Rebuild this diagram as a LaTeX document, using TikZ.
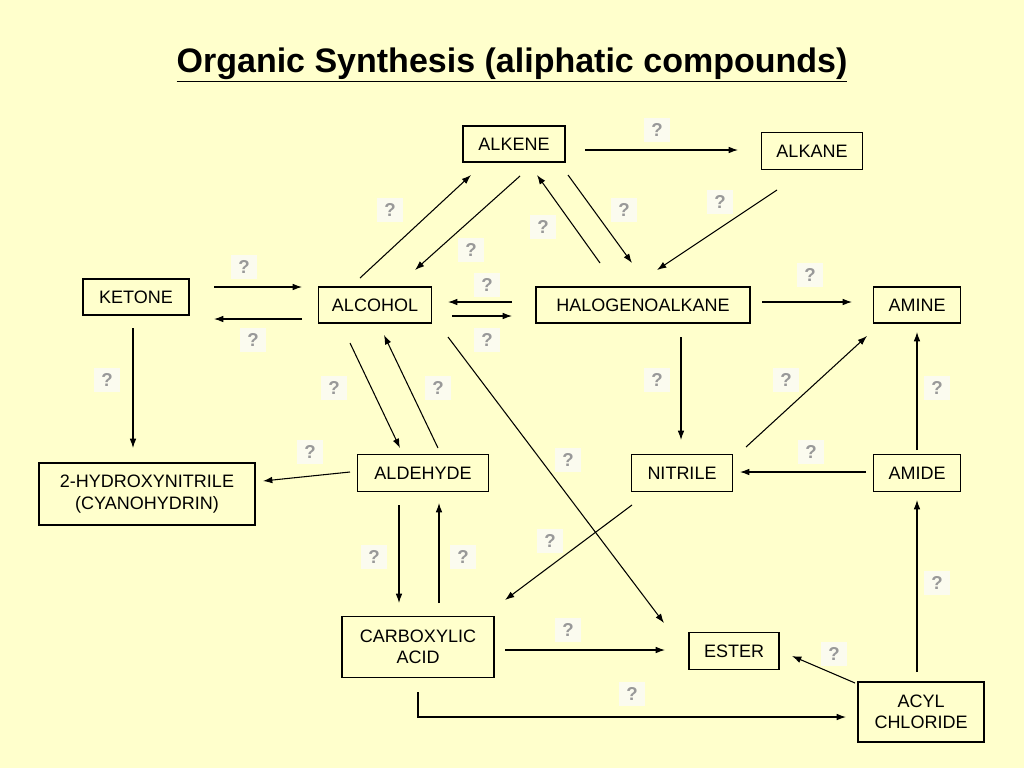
\documentclass[tikz,border=0pt]{standalone}
\usepackage{fontspec}
\setmainfont{Liberation Sans}
\usetikzlibrary{arrows.meta}
\definecolor{bg}{HTML}{FFFFCC}
\definecolor{qbg}{HTML}{FBFBEF}
\definecolor{qfg}{HTML}{999999}
\begin{document}
\begin{tikzpicture}[x=0.75pt,y=-0.75pt,
  box/.style={draw,line width=1.4pt,font=\fontsize{13.5}{16}\selectfont,align=center,inner sep=0pt},
  q/.style={fill=qbg,text=qfg,font=\fontsize{14}{16}\selectfont\bfseries,minimum width=20pt,minimum height=18pt,inner sep=0pt},
  ar/.style={-{Latex[length=7pt,width=5pt]},line width=0.8pt}]
\fill[bg] (0,0) rectangle (1024,768);
\useasboundingbox (0,0) rectangle (1024,768);
\node[font=\fontsize{25.5}{28}\selectfont\bfseries] (title) at (512,65) {\underline{Organic Synthesis (aliphatic compounds)}};
\node[box,minimum width=76.5pt,minimum height=27pt] (alkene) at (514,144) {ALKENE};
\node[box,minimum width=75.75pt,minimum height=27.75pt] (alkane) at (812,151) {ALKANE};
\node[box,minimum width=79.5pt,minimum height=27pt] (ketone) at (136,297) {KETONE};
\node[box,minimum width=84.75pt,minimum height=27pt] (alcohol) at (375,305) {ALCOHOL};
\node[box,minimum width=160.5pt,minimum height=27pt] (halo) at (643,305) {HALOGENOALKANE};
\node[box,minimum width=65.25pt,minimum height=27pt] (amine) at (917,305) {AMINE};
\node[box,minimum width=162pt,minimum height=46.5pt] (hydroxy) at (147,494) {2-HYDROXYNITRILE\\(CYANOHYDRIN)};
\node[box,minimum width=98.25pt,minimum height=27.75pt] (aldehyde) at (423,473) {ALDEHYDE};
\node[box,minimum width=75.75pt,minimum height=27.75pt] (nitrile) at (682,473) {NITRILE};
\node[box,minimum width=65.25pt,minimum height=27.75pt] (amide) at (917,473) {AMIDE};
\node[box,minimum width=114pt,minimum height=45.75pt] (acid) at (418,647) {CARBOXYLIC\\ACID};
\node[box,minimum width=67.5pt,minimum height=27.75pt] (ester) at (734,651) {ESTER};
\node[box,minimum width=94.5pt,minimum height=45pt] (acyl) at (921,712) {ACYL\\CHLORIDE};
\draw[ar] (585,150) -- (738,150);
\draw[ar] (360,278) -- (471,175);
\draw[ar] (520,176) -- (415,270);
\draw[ar] (600,263) -- (537,175);
\draw[ar] (568,175) -- (632,263);
\draw[ar] (777,190) -- (657,270);
\draw[ar] (214,287) -- (302,287);
\draw[ar] (302,319) -- (214,319);
\draw[ar] (512,302) -- (448,302);
\draw[ar] (452,316) -- (512,316);
\draw[ar] (762,302) -- (852,302);
\draw[ar] (133,328) -- (133,448);
\draw[ar] (350,343) -- (400,448);
\draw[ar] (438,448) -- (384,335);
\draw[ar] (448,337) -- (664,623);
\draw[ar] (681,337) -- (681,440);
\draw[ar] (746,447) -- (867,336);
\draw[ar] (917,450) -- (917,332);
\draw[ar] (866,472) -- (740,472);
\draw[ar] (350,472) -- (263,481);
\draw[ar] (399,505) -- (399,603);
\draw[ar] (439,603) -- (439,503);
\draw[ar] (632,505) -- (505,600);
\draw[ar] (505,650) -- (665,650);
\draw[ar] (855,683) -- (792,656);
\draw[ar] (917,672) -- (917,500);
\draw[ar] (418,692) -- (418,717) -- (846,717);
\foreach \p [count=\i] in {(657,130),(390,210),(471,250),(543,227),(624,210),(720,202),(244,267),(487,285),(253,340),(487,340),(810,275),(107,380),(334,388),(438,388),(657,380),(786,380),(937,388),(310,452),(568,460),(811,452),(374,557),(463,557),(550,541),(568,630),(937,583),(834,654),(632,694)}
  \node[q] (q\i) at \p {?};
\end{tikzpicture}
\end{document}
